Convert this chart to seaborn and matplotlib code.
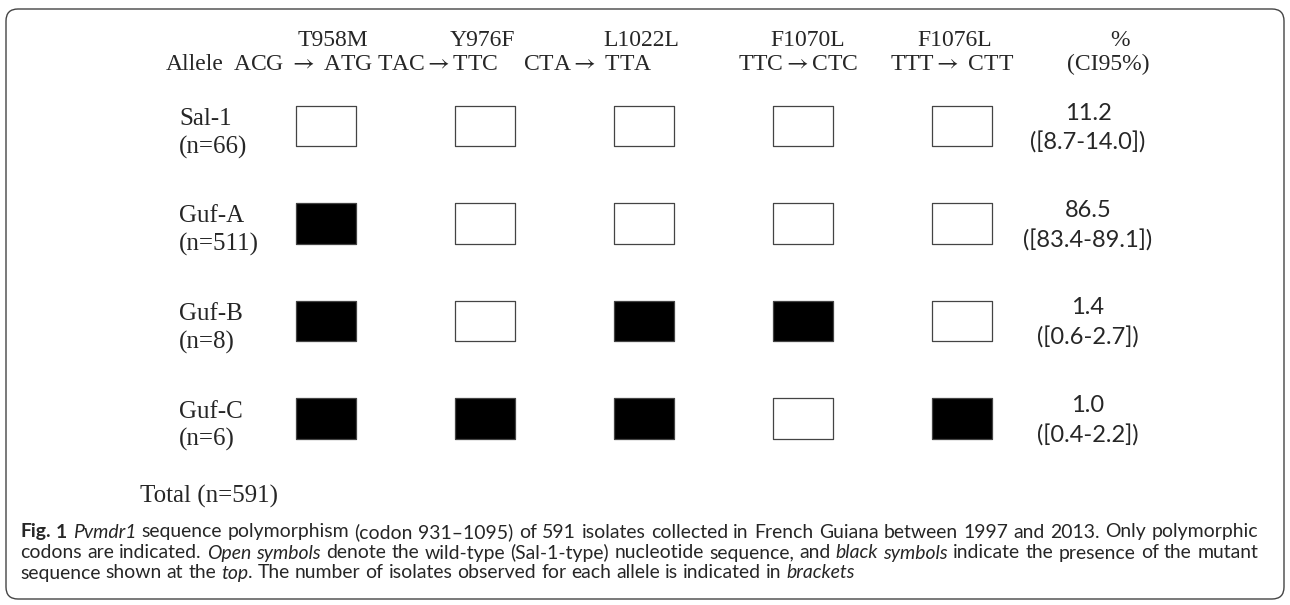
import matplotlib
matplotlib.use("Agg")
import matplotlib.pyplot as plt
import matplotlib.path as mpath
from matplotlib.markers import MarkerStyle
from matplotlib.patches import FancyBboxPatch
from matplotlib.transforms import IdentityTransform
import pandas as pd
import seaborn as sns

# data
alleles = ["Sal-1", "Guf-A", "Guf-B", "Guf-C"]
counts = [66, 511, 8, 6]
mutations = ["T958M", "Y976F", "L1022L", "F1070L", "F1076L"]
codon_wt = ["ACG", "TAC", "CTA", "TTC", "TTT"]
codon_mut = ["ATG", "TTC", "TTA", "CTC", "CTT"]
# 1 = mutant codon (black box), 0 = wild type (open box)
sal1 = [0, 0, 0, 0, 0]
guf_a = [1, 0, 0, 0, 0]
guf_b = [1, 0, 1, 1, 0]
guf_c = [1, 1, 1, 0, 1]
pct = [11.2, 86.5, 1.4, 1.0]
ci_low = [8.7, 83.4, 0.6, 0.4]
ci_high = [14.0, 89.1, 2.7, 2.2]
total = 591

rows = []
for j, states in enumerate([sal1, guf_a, guf_b, guf_c]):
    for i, s in enumerate(states):
        rows.append({"col": i, "row": j, "state": "mutant" if s else "wild"})
df = pd.DataFrame(rows)

W, H = 1290, 605
sns.set_style("white")
plt.rcParams["mathtext.fontset"] = "stix"
fig = plt.figure(figsize=(W / 100, H / 100), dpi=100)
ax = fig.add_axes([0, 0, 1, 1])
ax.axis("off")

# column / row spacing in pixels
X0, DX = 326, 159
Y0, DY = 126, 97.5
def px(x):
    return (x - X0) / DX
def py(y):
    return (y - Y0) / DY
ax.set_xlim(px(0), px(W))
ax.set_ylim(py(H), py(0))

# rectangular marker, 60 x 41 px
verts = [(-1, -0.68), (1, -0.68), (1, 0.68), (-1, 0.68), (-1, -0.68)]
codes = [mpath.Path.MOVETO] + [mpath.Path.LINETO] * 3 + [mpath.Path.CLOSEPOLY]
box = MarkerStyle(mpath.Path(verts, codes))
sns.scatterplot(data=df, x="col", y="row", hue="state",
                palette={"wild": "white", "mutant": "black"},
                marker=box, s=(60 * 0.72) ** 2, edgecolor="#444444",
                linewidth=0.9, legend=False, ax=ax, zorder=3)

serif = ["Liberation Serif", "DejaVu Serif"]
sans = ["Lato", "DejaVu Sans"]
fs_head = 17
fs_serif = 18

# header
name_dx = [7, -3, -3, 5, -7]
codon_left = [-93, -108, -121, -65, -72]
codon_fmt = ["{} $\\rightarrow$ {}", "{}$\\rightarrow${}", "{}$\\rightarrow$ {}",
             "{}$\\rightarrow${}", "{}$\\rightarrow$ {}"]
for i, m in enumerate(mutations):
    ax.text(i + name_dx[i] / DX, py(40), m, ha="center", va="center",
            family=serif, fontsize=fs_head)
    ax.text(i + codon_left[i] / DX, py(64), codon_fmt[i].format(codon_wt[i], codon_mut[i]),
            ha="left", va="center", family=serif, fontsize=fs_head)
ax.text(px(166), py(64), "Allele", ha="left", va="center", family=serif, fontsize=fs_head)
ax.text(px(1120), py(40), "%", ha="center", va="center", family=serif, fontsize=fs_head)
ax.text(px(1108), py(64), "(CI95%)", ha="center", va="center", family=serif, fontsize=fs_head)

# row labels and frequencies
for j, (a, n) in enumerate(zip(alleles, counts)):
    ax.text(px(179), j - 7 / DY, a, ha="left", va="center", family=serif, fontsize=fs_serif)
    ax.text(px(179), j + 21 / DY, f"(n={n})", ha="left", va="center", family=serif, fontsize=fs_serif)
    ax.text(px(1088), j - 13 / DY, f"{pct[j]:.1f}", ha="center", va="center",
            family=sans, fontsize=17)
    ax.text(px(1088), j + 17 / DY, f"([{ci_low[j]:.1f}-{ci_high[j]:.1f}])", ha="center",
            va="center", family=sans, fontsize=17)
ax.text(px(140), py(496), f"Total (n={total})", ha="left", va="center",
        family=serif, fontsize=fs_serif)

# frame
frame = FancyBboxPatch((6, H - 599), 1278, 590, boxstyle="round,pad=0,rounding_size=12",
                       transform=IdentityTransform(), fill=False, edgecolor="#444444", lw=1.0)
fig.add_artist(frame)

# caption: mixed styles, first two lines justified
renderer = fig.canvas.get_renderer()
cap_font = ["Lato", "DejaVu Sans"]
def text_w(s, fs, wt, st):
    kw = dict(family=cap_font, fontsize=fs, weight=wt, style=st)
    t = fig.text(0, 0, "|" + s + "|", **kw)
    w = t.get_window_extent(renderer).width
    t.remove()
    t = fig.text(0, 0, "||", **kw)
    w -= t.get_window_extent(renderer).width
    t.remove()
    return w

caption = [
    [("Fig. 1", "bold", "normal"), (" ", "normal", "normal"), ("Pvmdr1", "normal", "italic"),
     (" sequence polymorphism (codon 931\u20131095) of 591 isolates collected in French Guiana "
      "between 1997 and 2013. Only polymorphic", "normal", "normal")],
    [("codons are indicated. ", "normal", "normal"), ("Open symbols", "normal", "italic"),
     (" denote the wild-type (Sal-1-type) nucleotide sequence, and ", "normal", "normal"),
     ("black symbols", "normal", "italic"),
     (" indicate the presence of the mutant", "normal", "normal")],
    [("sequence shown at the ", "normal", "normal"), ("top", "normal", "italic"),
     (". The number of isolates observed for each allele is indicated in ", "normal", "normal"),
     ("brackets", "normal", "italic")],
]

def words_of(line):
    words = []
    new_word = True
    for text, wt, st in line:
        for k, p in enumerate(text.split(" ")):
            if k > 0:
                new_word = True
            if p == "":
                continue
            if new_word or not words:
                words.append([(p, wt, st)])
                new_word = False
            else:
                words[-1].append((p, wt, st))
    return words

def line_width(words, fs):
    ww = [sum(text_w(p, fs, wt, st) for p, wt, st in w) for w in words]
    return ww, sum(ww) + (len(words) - 1) * text_w(" ", fs, "normal", "normal")

cap_left, cap_right = 20, 1258
base = 12
_, w2 = line_width(words_of(caption[1]), base)
cap_fs = base * (cap_right - cap_left - 8) / w2
for k, (line, y) in enumerate(zip(caption, [532, 553, 573])):
    words = words_of(line)
    ww, natural = line_width(words, cap_fs)
    if k < 2:
        gap = (cap_right - cap_left - sum(ww)) / (len(words) - 1)
    else:
        gap = text_w(" ", cap_fs, "normal", "normal")
    x = cap_left
    for w, wlen in zip(words, ww):
        xx = x
        for p, wt, st in w:
            fig.text(xx, H - y, p, transform=IdentityTransform(), family=cap_font,
                     fontsize=cap_fs, weight=wt, style=st, va="center", ha="left")
            xx += text_w(p, cap_fs, wt, st)
        x += wlen + gap

fig.savefig("out.png", dpi=100)
